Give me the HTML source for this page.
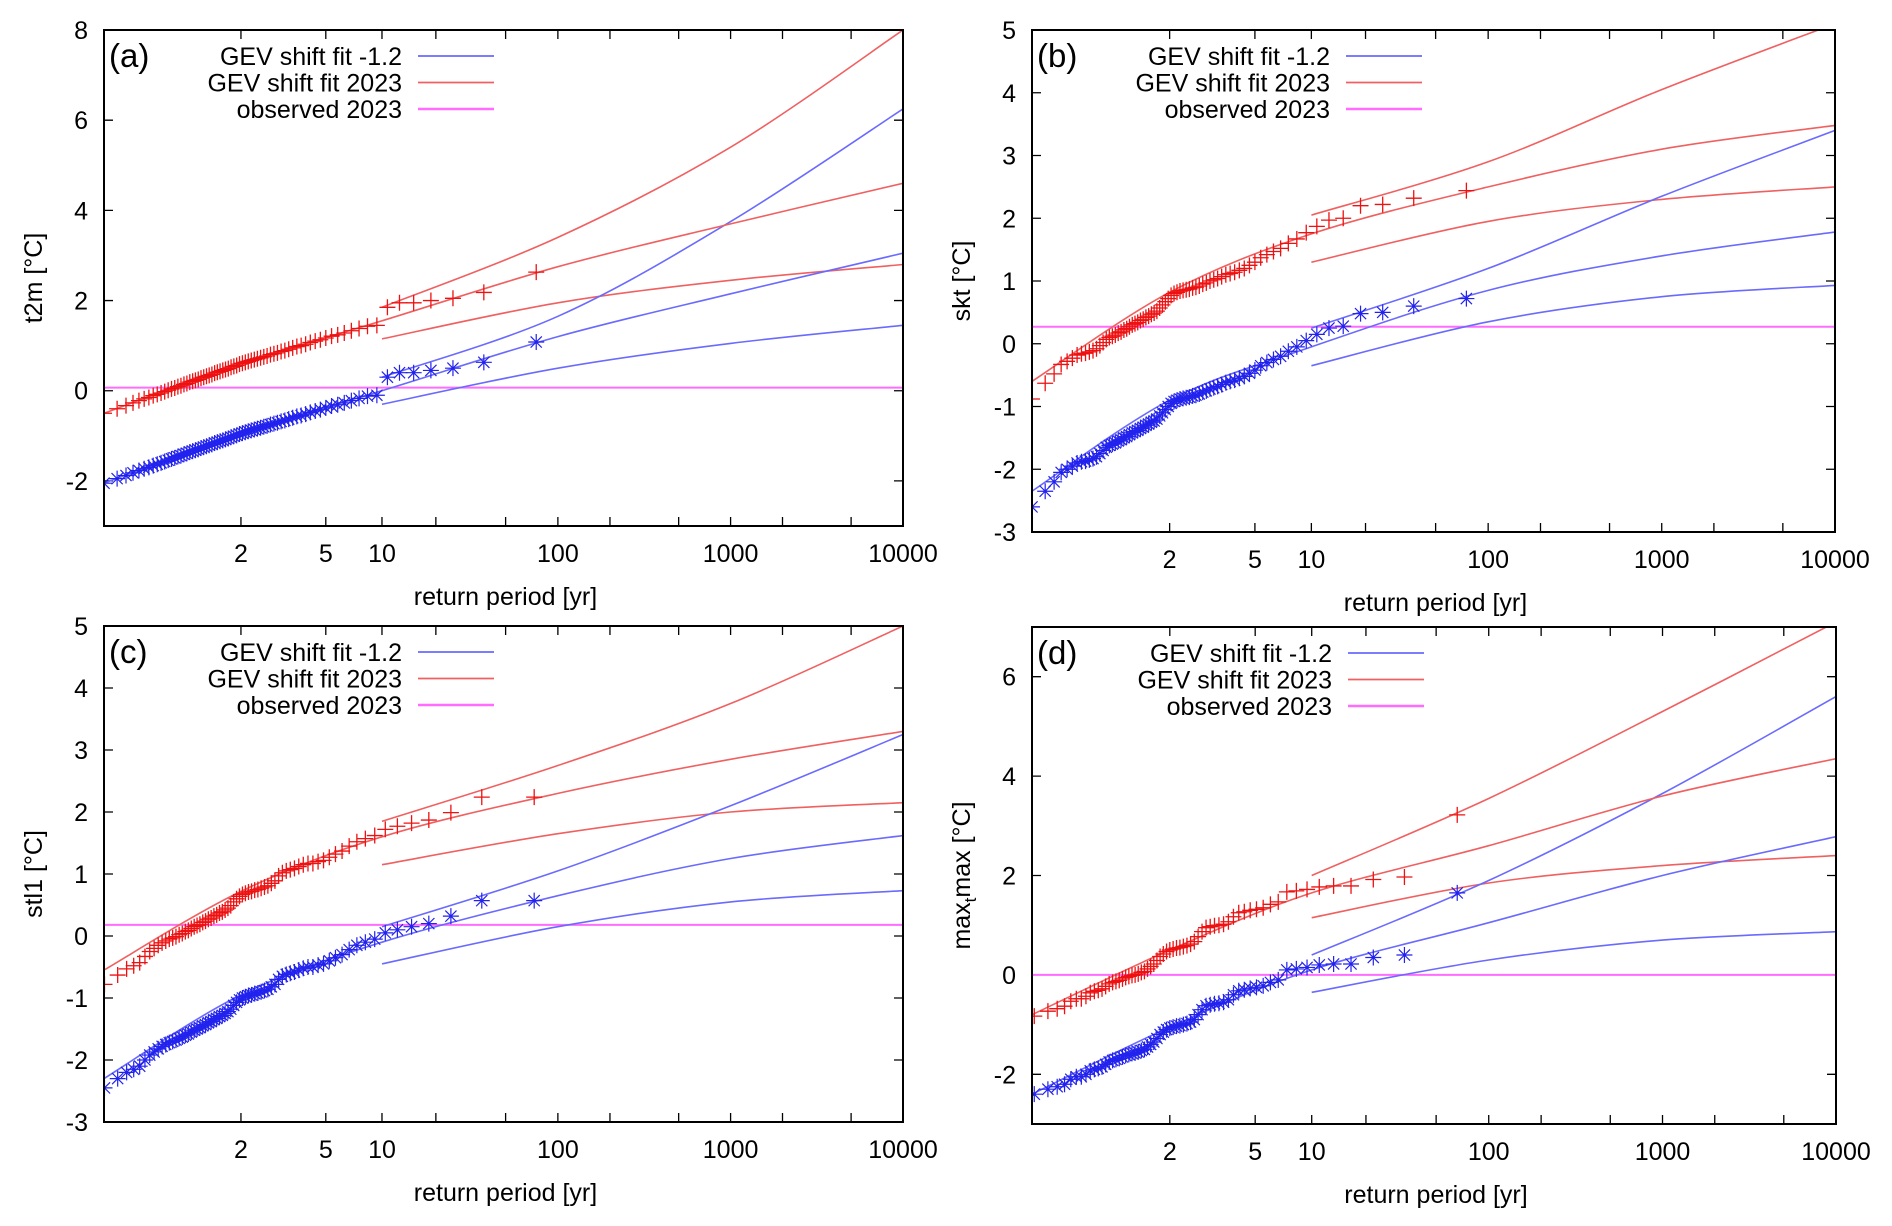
<!DOCTYPE html>
<html><head><meta charset="utf-8"><style>
body{margin:0;background:#fff;}
svg{display:block;font-family:"Liberation Sans",sans-serif;}
</style></head><body>
<svg id="fig" width="1892" height="1226" viewBox="0 0 1892 1226" xmlns="http://www.w3.org/2000/svg"></svg>
<script>
// ---- data ----
const xTickT = [2,5,10,20,50,100,200,500,1000,2000,5000,10000];
const xLabelT = [2,5,10,100,1000,10000];
const fitT = [10,100,1000,10000];
const centralT = [1.0135,2,10,100,1000,10000];

// panel a (t2m)
const aYTicks = [8,6,4,2,0,-2];
const aBlue = [1.08,0.63,0.5,0.45,0.4,0.4,0.3,-0.1,-0.12,-0.17,-0.22,-0.27,-0.31,-0.34,-0.38,-0.42,-0.45,-0.48,-0.52,-0.55,-0.57,-0.6,-0.63,-0.66,-0.68,-0.71,-0.73,-0.75,-0.78,-0.8,-0.82,-0.84,-0.86,-0.88,-0.9,-0.92,-0.94,-0.96,-0.99,-1.01,-1.03,-1.06,-1.08,-1.1,-1.12,-1.14,-1.16,-1.19,-1.21,-1.23,-1.25,-1.27,-1.3,-1.32,-1.34,-1.36,-1.39,-1.41,-1.44,-1.46,-1.49,-1.51,-1.54,-1.57,-1.6,-1.63,-1.66,-1.7,-1.73,-1.77,-1.82,-1.88,-1.95,-2.05];
const aShift = 1.55;
const aObs = 0.07;
const aRedUp = [1.85,3.4,5.4,8.0];
const aRedMid = [-0.5,0.6,1.55,2.75,3.7,4.6];
const aRedLo = [1.15,1.95,2.45,2.8];
const aBlueUp = [0.3,1.65,3.75,6.25];
const aBlueMid = [-2.05,-0.95,0.0,1.2,2.15,3.05];
const aBlueLo = [-0.3,0.5,1.05,1.45];

// panel b (skt)
const bYTicks = [5,4,3,2,1,0,-1,-2,-3];
const bBlue = [0.72,0.6,0.5,0.48,0.28,0.25,0.15,0.05,-0.05,-0.12,-0.2,-0.25,-0.3,-0.35,-0.42,-0.47,-0.52,-0.55,-0.58,-0.6,-0.62,-0.65,-0.68,-0.7,-0.72,-0.75,-0.77,-0.8,-0.82,-0.83,-0.85,-0.86,-0.87,-0.88,-0.9,-0.92,-0.95,-1.0,-1.05,-1.1,-1.15,-1.2,-1.23,-1.25,-1.28,-1.3,-1.33,-1.35,-1.38,-1.4,-1.42,-1.45,-1.48,-1.5,-1.53,-1.55,-1.58,-1.6,-1.62,-1.65,-1.7,-1.75,-1.8,-1.83,-1.85,-1.87,-1.88,-1.9,-1.95,-2.0,-2.05,-2.2,-2.35,-2.6];
const bShift = 1.72;
const bObs = 0.27;
const bRedUp = [2.05,2.9,4.05,5.1];
const bRedMid = [-0.6,0.82,1.75,2.5,3.1,3.48];
const bRedLo = [1.3,1.95,2.3,2.5];
const bBlueUp = [0.25,1.2,2.35,3.4];
const bBlueMid = [-2.35,-0.9,-0.05,0.85,1.4,1.78];
const bBlueLo = [-0.35,0.35,0.75,0.93];

// panel c (stl1)
const cYTicks = [5,4,3,2,1,0,-1,-2,-3];
const cBlue = [0.57,0.57,0.32,0.2,0.15,0.1,0.05,-0.05,-0.1,-0.15,-0.22,-0.3,-0.35,-0.4,-0.45,-0.47,-0.5,-0.5,-0.52,-0.55,-0.58,-0.6,-0.62,-0.65,-0.7,-0.78,-0.82,-0.86,-0.88,-0.9,-0.92,-0.93,-0.95,-0.96,-0.98,-1.0,-1.03,-1.07,-1.12,-1.18,-1.22,-1.25,-1.28,-1.3,-1.33,-1.35,-1.38,-1.4,-1.43,-1.45,-1.48,-1.5,-1.52,-1.55,-1.58,-1.6,-1.63,-1.65,-1.68,-1.7,-1.72,-1.75,-1.78,-1.82,-1.87,-1.92,-2.0,-2.1,-2.15,-2.2,-2.3,-2.45];
const cShift = 1.67;
const cObs = 0.18;
const cRedUp = [1.85,2.75,3.75,5.0];
const cRedMid = [-0.55,0.72,1.6,2.3,2.85,3.3];
const cRedLo = [1.15,1.65,2.0,2.15];
const cBlueUp = [0.15,1.05,2.1,3.25];
const cBlueMid = [-2.3,-0.95,-0.1,0.65,1.25,1.62];
const cBlueLo = [-0.45,0.15,0.55,0.73];

// panel d (max_t max)
const dYTicks = [6,4,2,0,-2];
const dBlue = [1.65,0.4,0.35,0.22,0.22,0.2,0.15,0.12,0.1,-0.1,-0.15,-0.22,-0.25,-0.27,-0.3,-0.32,-0.4,-0.5,-0.55,-0.57,-0.58,-0.6,-0.62,-0.7,-0.8,-0.9,-0.95,-0.98,-1.0,-1.02,-1.03,-1.05,-1.07,-1.1,-1.15,-1.2,-1.28,-1.35,-1.4,-1.45,-1.5,-1.52,-1.55,-1.57,-1.58,-1.6,-1.62,-1.65,-1.68,-1.7,-1.72,-1.75,-1.8,-1.85,-1.88,-1.9,-1.93,-2.0,-2.05,-2.05,-2.1,-2.2,-2.25,-2.3,-2.4];
const dShift = 1.57;
const dObs = 0.0;
const dRedUp = [2.0,3.55,5.3,7.1];
const dRedMid = [-0.8,0.5,1.65,2.6,3.6,4.35];
const dRedLo = [1.15,1.85,2.2,2.4];
const dBlueUp = [0.4,1.9,3.65,5.6];
const dBlueMid = [-2.4,-1.05,0.1,1.05,2.0,2.78];
const dBlueLo = [-0.35,0.3,0.7,0.87];

// ---- drawing ----
const NS = "http://www.w3.org/2000/svg";
const svg = document.getElementById('fig');
function mk(tag, attrs, parent){const e=document.createElementNS(NS,tag);for(const k in attrs)e.setAttribute(k,attrs[k]);(parent||svg).appendChild(e);return e;}
function gum(T){return -Math.log(-Math.log(1-1/T));}
const GMIN = gum(1.0135), GMAX = gum(10000);
const BLUE_PT='#2222ee', BLUE_LN='#6a6aff', RED_PT='#ee1111', RED_LN='#f06060', MAG='#ff6cff';

function spline(pts){
  let d='M'+pts[0][0].toFixed(1)+','+pts[0][1].toFixed(1);
  for(let i=0;i<pts.length-1;i++){
    const p0=pts[Math.max(0,i-1)],p1=pts[i],p2=pts[i+1],p3=pts[Math.min(pts.length-1,i+2)];
    const c1=[p1[0]+(p2[0]-p0[0])/6,p1[1]+(p2[1]-p0[1])/6];
    const c2=[p2[0]-(p3[0]-p1[0])/6,p2[1]-(p3[1]-p1[1])/6];
    d+=' C'+c1[0].toFixed(1)+','+c1[1].toFixed(1)+' '+c2[0].toFixed(1)+','+c2[1].toFixed(1)+' '+p2[0].toFixed(1)+','+p2[1].toFixed(1);
  }
  return d;
}

function panel(cfg){
  const {id,L,R,T,B,ymin,ymax,yticks,ylab,letter,legR,blue,shift,obs,fits,mids} = cfg;
  const g = mk('g',{});
  
  
  const X = t => L + (gum(t)-GMIN)/(GMAX-GMIN)*(R-L);
  const Xg = y => L + (y-GMIN)/(GMAX-GMIN)*(R-L);
  const Y = v => B - (v-ymin)/(ymax-ymin)*(B-T);
  const clip = mk('clipPath',{id:'clip'+id},g);
  mk('rect',{x:L,y:T,width:R-L,height:B-T},clip);
  for(const t of xTickT){
    const x=X(t);
    const tk=mk('path',{d:`M${x},${B}v-9M${x},${T}v9`,stroke:'#000','stroke-width':1.3},g);
    
    
  }
  for(const t of xLabelT){
    const tx=mk('text',{x:X(t),y:B+36,'text-anchor':'middle','font-size':25,fill:'#000'},g);
    tx.textContent=t;
    
    
  }
  for(const v of yticks){
    const y=Y(v);
    if(v!==ymin && v!==ymax){
      const tk=mk('path',{d:`M${L},${y}h9M${R},${y}h-9`,stroke:'#000','stroke-width':1.3},g);
      
      
    }
    const tx=mk('text',{x:L-16,y:y+9,'text-anchor':'end','font-size':25,fill:'#000'},g);
    tx.textContent=v;
    
    
  }
  const xt=mk('text',{x:(L+R)/2+2,y:B+79,'text-anchor':'middle','font-size':25,fill:'#000'},g);
  xt.textContent='return period [yr]';
  
  
  const yt=mk('text',{x:0,y:0,'text-anchor':'middle','font-size':25,fill:'#000',transform:`translate(${L-62},${(T+B)/2}) rotate(-90)`},g);
  yt.innerHTML=ylab;
  
  

  const pg=mk('g',{'clip-path':`url(#clip${id})`},g);
  const ob=mk('line',{x1:L,x2:R,y1:Y(obs),y2:Y(obs),stroke:MAG,'stroke-width':2},pg);
  
  
  const fitDefs=[['red-upper',fits.ru,RED_LN],['red-lower',fits.rl,RED_LN],['blue-upper',fits.bu,BLUE_LN],['blue-lower',fits.bl,BLUE_LN]];
  for(const [nm,arr,col] of fitDefs){
    const p=mk('path',{d:spline(fitT.map((t,i)=>[X(t),Y(arr[i])])),fill:'none',stroke:col,'stroke-width':1.6},pg);
    
    
  }
  for(const [nm,arr,col] of [['red-central',mids.r,RED_LN],['blue-central',mids.b,BLUE_LN]]){
    const p=mk('path',{d:spline(centralT.map((t,i)=>[X(t),Y(arr[i])])),fill:'none',stroke:col,'stroke-width':1.6},pg);
    
    
  }
  const n=blue.length;
  blue.forEach((v,i)=>{
    const rank=i+1;
    const x=Xg(-Math.log(-Math.log(1-rank/(n+1))));
    const yb=Y(v), yr=Y(v+shift);
    const s=8;
    const pb=mk('path',{d:`M${x-s},${yb}h${2*s}M${x},${yb-s}v${2*s}M${x-s*0.7},${yb-s*0.7}l${1.4*s},${1.4*s}M${x-s*0.7},${yb+s*0.7}l${1.4*s},${-1.4*s}`,stroke:BLUE_PT,'stroke-width':1.2,fill:'none'},pg);
    
    
    const pr=mk('path',{d:`M${x-s},${yr}h${2*s}M${x},${yr-s}v${2*s}`,stroke:RED_PT,'stroke-width':1.3,fill:'none'},pg);
    
    
  });
  const fr=mk('rect',{x:L,y:T,width:R-L,height:B-T,fill:'none',stroke:'#000','stroke-width':2},g);
  
  
  const lt=mk('text',{x:L+5,y:T+37,'font-size':33,fill:'#000'},g);
  lt.textContent='('+letter+')';
  
  
  const leg=[['GEV shift fit -1.2',BLUE_LN],['GEV shift fit 2023',RED_LN],['observed 2023',MAG]];
  leg.forEach(([txt,col],k)=>{
    const y=T+26+k*26.5;
    const e=mk('g',{},g);
    
    
    const t=mk('text',{x:legR,y:y+9,'text-anchor':'end','font-size':25,fill:'#000'},e);
    t.textContent=txt;
    mk('line',{x1:legR+16,x2:legR+92,y1:y,y2:y,stroke:col,'stroke-width':k===2?2.5:1.8},e);
  });
}

panel({id:'a',L:104,R:903,T:30,B:526,ymin:-3,ymax:8,yticks:aYTicks,ylab:'t2m  [°C]',letter:'a',legR:402,
  blue:aBlue,shift:aShift,obs:aObs,fits:{ru:aRedUp,rl:aRedLo,bu:aBlueUp,bl:aBlueLo},mids:{r:aRedMid,b:aBlueMid}});
panel({id:'b',L:1032,R:1835,T:30,B:532,ymin:-3,ymax:5,yticks:bYTicks,ylab:'skt  [°C]',letter:'b',legR:1330,
  blue:bBlue,shift:bShift,obs:bObs,fits:{ru:bRedUp,rl:bRedLo,bu:bBlueUp,bl:bBlueLo},mids:{r:bRedMid,b:bBlueMid}});
panel({id:'c',L:104,R:903,T:626,B:1122,ymin:-3,ymax:5,yticks:cYTicks,ylab:'stl1  [°C]',letter:'c',legR:402,
  blue:cBlue,shift:cShift,obs:cObs,fits:{ru:cRedUp,rl:cRedLo,bu:cBlueUp,bl:cBlueLo},mids:{r:cRedMid,b:cBlueMid}});
panel({id:'d',L:1032,R:1836,T:627,B:1124,ymin:-3,ymax:7,yticks:dYTicks,ylab:'max<tspan font-size="17" dy="6">t</tspan><tspan dy="-6">max [°C]</tspan>',letter:'d',legR:1332,
  blue:dBlue,shift:dShift,obs:dObs,fits:{ru:dRedUp,rl:dRedLo,bu:dBlueUp,bl:dBlueLo},mids:{r:dRedMid,b:dBlueMid}});
</script>
</body></html>
